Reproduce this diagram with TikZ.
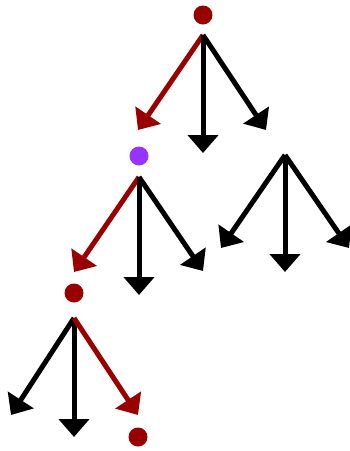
\documentclass[tikz,border=0pt]{standalone}
\usetikzlibrary{arrows.meta}
\definecolor{deepred}{RGB}{153,0,0}
\definecolor{violet}{RGB}{153,51,255}
\begin{document}
\begin{tikzpicture}[x=1pt,y=-1pt,
  dot/.style={circle,fill=#1,inner sep=0pt,minimum size=19pt},
  move/.style={line width=5pt,draw=#1,-{Triangle[length=18pt,width=30pt]}},
  move/.default=black]
\useasboundingbox (0,0) rectangle (350,451);
% positions
\node[dot=deepred] (d1) at (203,15) {};
\node[dot=violet]  (d2) at (139,156) {};
\node[dot=deepred] (d3) at (74,293) {};
\node[dot=deepred] (d4) at (138,437) {};
% branching points
\coordinate (o1) at (203,35);
\coordinate (o2) at (139,177);
\coordinate (o3) at (285,155);
\coordinate (o4) at (74,318);
% first fan
\coordinate (a1) at (138,130);
\coordinate (b1) at (203,153);
\coordinate (c1) at (266,130);
\draw[move=deepred] (o1) -- (a1);
\draw[move] (o1) -- (b1);
\draw[move] (o1) -- (c1);
% second fan
\coordinate (a2) at (74,272);
\coordinate (b2) at (139,295);
\coordinate (c2) at (203,271);
\draw[move=deepred] (o2) -- (a2);
\draw[move] (o2) -- (b2);
\draw[move] (o2) -- (c2);
% right fan
\coordinate (a3) at (221,248);
\coordinate (b3) at (285,272);
\coordinate (c3) at (349,248);
\draw[move] (o3) -- (a3);
\draw[move] (o3) -- (b3);
\draw[move] (o3) -- (c3);
% bottom fan
\coordinate (a4) at (11,415);
\coordinate (b4) at (74,437);
\coordinate (c4) at (138,415);
\draw[move] (o4) -- (a4);
\draw[move] (o4) -- (b4);
\draw[move=deepred] (o4) -- (c4);
\end{tikzpicture}
\end{document}
